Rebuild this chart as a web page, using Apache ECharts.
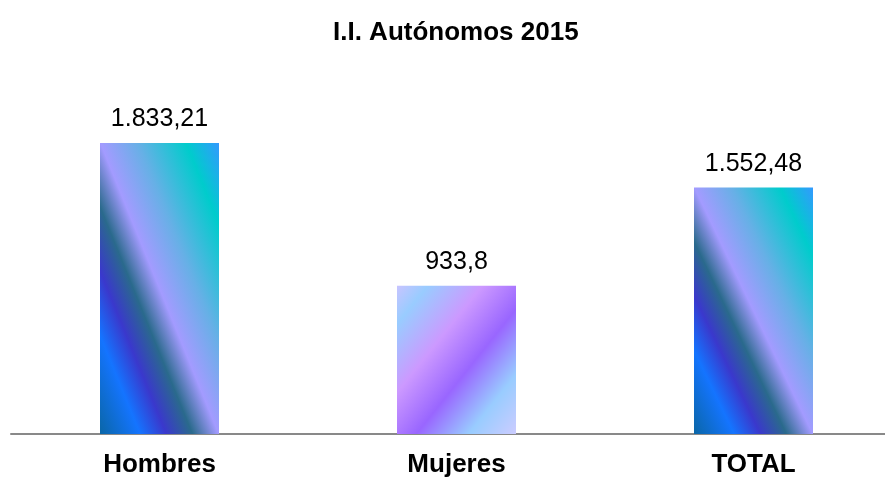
<!DOCTYPE html>
<html>
<head>
<meta charset="utf-8">
<script src="https://cdn.jsdelivr.net/npm/echarts@6/dist/echarts.min.js"></script>
<style>html,body{margin:0;padding:0;background:#fff;overflow:hidden}#chart{width:902px;height:478px}</style>
</head>
<body>
<div id="chart"></div>
<script>
var categories = ['Hombres', 'Mujeres', 'TOTAL'];
var values = [1833.21, 933.8, 1552.48];

// gradient stops per bar (Excel-style preset fills)
var peacock = [
  [0, '#0a66a6'], [0.17, '#1474ff'], [0.28, '#3a38cc'], [0.39, '#2a6a8c'],
  [0.5, '#a39bff'], [0.66, '#66b0e6'], [0.86, '#00cccc'], [1, '#3399ff']
];
var fog = [
  [0, '#c8c4ff'], [0.13, '#99ccff'], [0.36, '#cc99ff'], [0.58, '#9966ff'],
  [0.8, '#99ccff'], [1, '#ccccff']
];

var yMax = 2500, plotH = 398, barW = 119;

function fmt(v){
  var s = String(v).split('.');
  var ip = s[0].replace(/\B(?=(\d{3})+(?!\d))/g, '.');
  return s[1] ? ip + ',' + s[1] : ip;
}

// isolines parallel to a bar diagonal, like relative gradient fills
function diagGradient(v, stops, rising){
  var w = barW, h = v * plotH / yMax, S = w*w + h*h;
  var a = h*h/S, b = w*w/S;
  var cs = stops.map(function(s){ return {offset: s[0], color: s[1]}; });
  if(rising) // bottom-left -> top-right
    return new echarts.graphic.LinearGradient(0.5 - a, 0.5 + b, 0.5 + a, 0.5 - b, cs);
  return new echarts.graphic.LinearGradient(0.5 - a, 0.5 - b, 0.5 + a, 0.5 + b, cs);
}

var data = values.map(function(v, i){
  var isFog = categories[i] === 'Mujeres';
  return { value: v, itemStyle: { color: diagGradient(v, isFog ? fog : peacock, !isFog) } };
});

// the plot runs a little past the right edge of the window, so the canvas is wider than it
var chart = echarts.init(document.getElementById('chart'));
chart.setOption({
  animation: false,
  textStyle: { fontFamily: 'Liberation Sans, Arial, sans-serif' },
  title: {
    text: 'I.I. Autónomos 2015',
    left: 328, top: 15,
    textStyle: { fontSize: 26, fontWeight: 'bold', color: '#000', fontFamily: 'Liberation Sans, Arial, sans-serif' }
  },
  grid: { left: 11, right: 0, top: 37, bottom: 43, containLabel: false },
  xAxis: {
    type: 'category',
    data: categories,
    axisTick: { show: false },
    axisLine: { lineStyle: { color: '#898989', width: 2 } },
    axisLabel: { margin: 18, fontSize: 26, fontWeight: 'bold', color: '#000', fontFamily: 'Liberation Sans, Arial, sans-serif' }
  },
  yAxis: {
    type: 'value', min: 0, max: yMax,
    show: false, splitLine: { show: false }
  },
  series: [{
    type: 'bar',
    barWidth: barW,
    data: data,
    label: {
      show: true, position: 'top', distance: 11,
      fontSize: 25, color: '#000', fontFamily: 'Liberation Sans, Arial, sans-serif',
      formatter: function(p){ return fmt(p.value); }
    }
  }]
});
</script>
</body>
</html>
